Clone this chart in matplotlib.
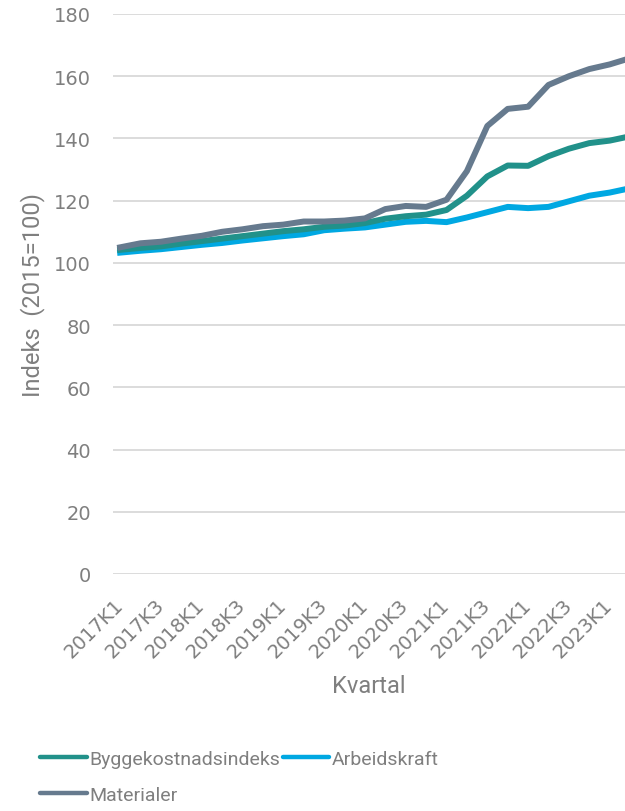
import numpy as np
import matplotlib.pyplot as plt

# kvartal 2017K1 - 2023K2
kvartal = [f"{aar}K{k}" for aar in range(2017, 2024) for k in range(1, 5)][:26]

byggekostnad = [104.2, 104.8, 105.3, 106.2, 107.0, 107.8, 108.6, 109.4, 110.2, 110.8,
                111.6, 112.0, 112.8, 114.2, 115.0, 115.5, 117.0, 121.6, 127.8, 131.3,
                131.2, 134.3, 136.7, 138.5, 139.3, 140.7]
arbeidskraft = [103.3, 103.9, 104.4, 105.1, 105.8, 106.4, 107.2, 107.9, 108.6, 109.2,
                110.5, 111.0, 111.4, 112.3, 113.2, 113.5, 113.1, 114.6, 116.3, 118.0,
                117.6, 118.0, 119.8, 121.6, 122.6, 124.0]
materialer = [105.0, 106.3, 106.8, 107.8, 108.7, 110.0, 110.8, 111.8, 112.3, 113.3,
              113.3, 113.6, 114.3, 117.3, 118.3, 118.0, 120.3, 129.5, 144.0, 149.5,
              150.2, 157.2, 160.0, 162.3, 163.8, 165.8]

farge_bygg = '#21918a'
farge_arb = '#00a8e2'
farge_mat = '#667a8e'
tekst = '#7f7f7f'

plt.rcParams['font.family'] = ['Roboto', 'DejaVu Sans']

fig = plt.figure(figsize=(6.25, 8.12), dpi=100)
ax = fig.add_axes([113/625, 1 - 575/812, 1 - 113/625, (575 - 15)/812])

x = np.arange(len(kvartal))
l1, = ax.plot(x, byggekostnad, color=farge_bygg, lw=4.3, solid_joinstyle='round', zorder=4)
l2, = ax.plot(x, arbeidskraft, color=farge_arb, lw=4.3, solid_joinstyle='round', zorder=3)
l3, = ax.plot(x, materialer, color=farge_mat, lw=4.3, solid_joinstyle='round', zorder=5)

ax.set_xlim(-0.35, 24.75)
ax.set_ylim(0, 180)
ax.set_yticks(np.arange(0, 181, 20))
ax.set_xticks(x[::2])
ax.set_xticklabels(kvartal[::2], rotation=45, ha='right', va='center', rotation_mode='anchor')

ax.grid(axis='y', color='#d9d9d9', lw=1.3)
ax.set_axisbelow(True)
for s in ax.spines.values():
    s.set_visible(False)
ax.tick_params(length=0, colors=tekst)
ax.tick_params(axis='y', pad=16)
ax.tick_params(axis='x', pad=20)
for t in ax.get_xticklabels() + ax.get_yticklabels():
    t.set_family('DejaVu Sans')
    t.set_fontsize(14)

ax.set_ylabel('Indeks  (2015=100)', color=tekst, fontsize=17, labelpad=6)
ax.set_xlabel('Kvartal', color=tekst, fontsize=17, labelpad=9)

leg = fig.legend([l1, l3, l2], ['Byggekostnadsindeks', 'Materialer', 'Arbeidskraft'],
                 ncol=2, loc='upper left', bbox_to_anchor=(0.052, 0.085),
                 frameon=False, fontsize=14, handlelength=2.4, handletextpad=0.1,
                 columnspacing=0.15, labelspacing=0.95, borderaxespad=0)
for t in leg.get_texts():
    t.set_color(tekst)
for h in leg.get_lines():
    h.set_linewidth(3.2)
    h.set_solid_capstyle('round')

fig.savefig('out.png', dpi=100)
